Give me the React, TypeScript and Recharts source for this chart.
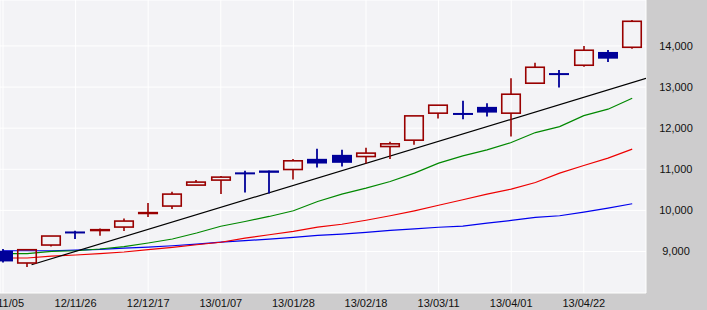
import React from 'react';
import { ComposedChart, Bar, Line, XAxis, YAxis, CartesianGrid } from 'recharts';

const dates = ['12/11/05','12/11/12','12/11/19','12/11/26','12/12/03','12/12/10','12/12/17','12/12/24','12/12/31','13/01/07','13/01/14','13/01/21','13/01/28','13/02/04','13/02/11','13/02/18','13/02/25','13/03/04','13/03/11','13/03/18','13/03/25','13/04/01','13/04/08','13/04/15','13/04/22','13/04/29','13/05/06'];
const opens  = [9018, 8720, 9157, 9487, 9510, 9594, 9925, 10105, 10615, 10737, 10925, 10970, 10994, 11254, 11351, 11310, 11553, 11708, 12365, 12370, 12518, 12365, 13094, 13340, 13531, 13854, 13968];
const highs  = [9060, 9043, 9376, 9504, 9560, 9803, 10178, 10452, 10737, 10834, 10962, 10970, 11247, 11497, 11473, 11521, 11667, 12299, 12559, 12664, 12608, 13215, 13594, 13417, 14000, 13903, 14632];
const lows   = [8734, 8622, 9123, 9303, 9383, 9497, 9837, 10032, 10615, 10396, 10435, 10411, 10751, 11043, 11067, 11140, 11247, 11594, 12233, 12219, 12282, 11796, 13094, 12987, 13497, 13611, 13934];
const closes = [8758, 9043, 9376, 9439, 9530, 9740, 9945, 10396, 10688, 10809, 10905, 10914, 11206, 11140, 11157, 11393, 11619, 12299, 12559, 12335, 12379, 12826, 13482, 13310, 13896, 13691, 14600];
const maShort = [8946, 8946, 9002, 9018, 9060, 9116, 9206, 9303, 9449, 9614, 9730, 9852, 9990, 10216, 10396, 10542, 10703, 10907, 11150, 11327, 11473, 11650, 11893, 12039, 12306, 12462, 12729];
const maMid   = [8841, 8841, 8885, 8914, 8946, 8987, 9043, 9099, 9164, 9225, 9327, 9407, 9488, 9594, 9662, 9760, 9869, 9990, 10124, 10258, 10396, 10518, 10678, 10907, 11091, 11271, 11490];
const maLong  = [9018, 9018, 9018, 9035, 9050, 9084, 9108, 9140, 9181, 9230, 9262, 9303, 9342, 9390, 9424, 9463, 9512, 9548, 9590, 9619, 9692, 9755, 9828, 9869, 9959, 10056, 10161];
const trendX = [1.18, 26.57];
const trendY = [8678, 13210];
const xTicks = [0, 3, 6, 9, 12, 15, 18, 21, 24];
const yTicks = [9000, 10000, 11000, 12000, 13000, 14000];

const data = dates.map((d, i) => ({
  i, date: d, open: opens[i], high: highs[i], low: lows[i], close: closes[i],
  maShort: maShort[i], maMid: maMid[i], maLong: maLong[i],
}));
const trendData = trendX.map((x, k) => ({ i: x, trend: trendY[k] }));

const UP = '#990000';
const DOWN = '#000099';

const Candle = (props: any) => {
  const { x, y, width, height, payload } = props;
  if (x == null || y == null || !payload) return null;
  const { open, close, high, low } = payload;
  const ppv = high - low > 0 ? height / (high - low) : 0;
  const yOf = (v: number) => y + (high - v) * ppv;
  const cx = Math.round(x + width / 2);
  const up = close >= open;
  const top = yOf(Math.max(open, close));
  const bot = yOf(Math.min(open, close));
  const color = up ? UP : DOWN;
  if (up) {
    return (
      <g>
        <line x1={cx} x2={cx} y1={y} y2={top} stroke={color} strokeWidth={1.6} />
        <line x1={cx} x2={cx} y1={bot} y2={y + height} stroke={color} strokeWidth={1.6} />
        <rect x={cx - 9.25} y={top} width={18.5} height={Math.max(bot - top, 0.5)} fill="none" stroke={color} strokeWidth={1.6} />
      </g>
    );
  }
  const h = Math.max(bot - top, 2);
  return (
    <g>
      <line x1={cx} x2={cx} y1={y} y2={y + height} stroke={color} strokeWidth={1.8} />
      <rect x={cx - 10} y={top} width={20} height={h} fill={color} stroke="none" />
    </g>
  );
};

const XTick = (props: any) => {
  const { x, payload } = props;
  return (
    <text x={x} y={307} textAnchor="middle" fontSize={11} fontFamily="Liberation Sans, Arial, sans-serif" fill="#111">
      {dates[payload.value]}
    </text>
  );
};

const YTick = (props: any) => {
  const { y, payload } = props;
  return (
    <text x={676} y={y + 4} textAnchor="middle" fontSize={11} fontFamily="Liberation Sans, Arial, sans-serif" fill="#111">
      {payload.value.toLocaleString('en-US')}
    </text>
  );
};

export default function App() {
  return (
    <div style={{ position: 'absolute', left: 0, top: 0, width: 707, height: 310, background: '#CDCCCD' }}>
      <ComposedChart width={707} height={310} data={data} margin={{ top: 0, right: 0, bottom: 0, left: 0 }}>
        <CartesianGrid stroke="#FFFFFF" fill="#F3F3F6" fillOpacity={1} strokeWidth={1} />
        <XAxis dataKey="i" type="number" domain={[-0.124, 26.57]} allowDataOverflow ticks={xTicks} interval={0}
          axisLine={false} tickLine={false} height={17} tick={<XTick />} />
        <YAxis orientation="right" type="number" domain={[7990, 15118]} allowDataOverflow ticks={yTicks} interval={0}
          axisLine={false} tickLine={false} width={61} tick={<YTick />} />
        <Line dataKey="maLong" stroke="#0000EE" strokeWidth={1.2} dot={false} activeDot={false} isAnimationActive={false} />
        <Line dataKey="maMid" stroke="#EE0000" strokeWidth={1.2} dot={false} activeDot={false} isAnimationActive={false} />
        <Line dataKey="maShort" stroke="#008800" strokeWidth={1.2} dot={false} activeDot={false} isAnimationActive={false} />
        <Line data={trendData} dataKey="trend" stroke="#000000" strokeWidth={1.2} dot={false} activeDot={false} isAnimationActive={false} />
        <Bar dataKey={(d: any) => [d.low, d.high]} barSize={20} shape={Candle} activeBar={false} isAnimationActive={false} {...({ zIndex: 700 } as any)} />
      </ComposedChart>
    </div>
  );
}
